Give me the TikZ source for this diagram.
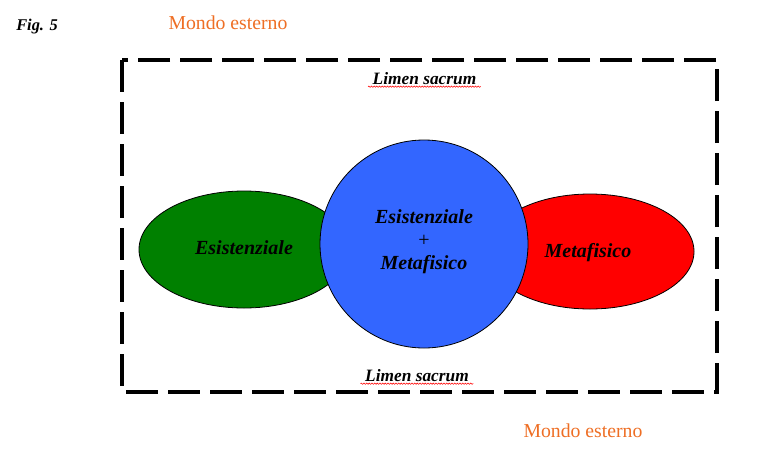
\documentclass[tikz,border=0pt]{standalone}
\usepackage{fontspec}
\setmainfont{Liberation Serif}
\usetikzlibrary{shapes.geometric,decorations.pathmorphing}
\definecolor{orangetxt}{RGB}{238,110,36}
\definecolor{ovgreen}{RGB}{0,128,0}
\definecolor{ovred}{RGB}{255,0,0}
\definecolor{ovblue}{RGB}{51,102,255}
\def\px{0.75pt}
\tikzset{
  labelbi/.style={font=\fontsize{15}{17.3}\selectfont\bfseries\itshape, align=center},
  limen/.style={font=\fontsize{13}{15}\selectfont\bfseries\itshape, anchor=base},
  mondo/.style={font=\fontsize{14.8}{17}\selectfont, text=orangetxt, anchor=base},
  blob/.style={draw=black, line width=0.6pt, inner sep=0pt},
  spell/.style={draw=red, line width=0.4pt, decorate, decoration={snake, amplitude=0.5pt, segment length=2pt}},
}
\begin{document}
\begin{tikzpicture}[x=0.75pt, y=-0.75pt]
\useasboundingbox (0,0) rectangle (766,468);
% labels outside
\node[font=\fontsize{12.3}{14}\selectfont\bfseries\itshape, anchor=base] (fig) at (37,30) {Fig. 5};
\node[mondo] (mtop) at (228,29) {Mondo esterno};
\node[mondo] (mbot) at (583,437) {Mondo esterno};
% dashed boundary
\draw[line width=2.6pt, dash pattern=on 24pt off 7.5pt] (122,60) rectangle (717,392);
% limen
\node[limen] (ltop) at (424.5,84) {Limen sacrum};
\node[limen] (lbot) at (417,381) {Limen sacrum};
\draw[spell] ([yshift=-2pt]ltop.base west) -- ([yshift=-2pt]ltop.base east);
\draw[spell] ([yshift=-2pt]lbot.base west) -- ([yshift=-2pt]lbot.base east);
% ellipses and circle
\node[blob, ellipse, fill=ovgreen, minimum width=210*\px, minimum height=117*\px, labelbi] (ex) at (244,249.5) {};
\node[labelbi, anchor=base] (ext) at (244,254) {Esistenziale};
\node[blob, ellipse, fill=ovred, minimum width=208*\px, minimum height=115*\px] (mf) at (590,251.5) {};
\node[labelbi, anchor=base] (mft) at (588,257) {Metafisico};
\node[blob, circle, fill=ovblue, minimum size=208*\px] (both) at (424,244) {};
\node[labelbi] (botht) at (424,242) {Esistenziale\\{\normalfont\fontsize{15}{17.3}\selectfont +}\\Metafisico};
\end{tikzpicture}
\end{document}
